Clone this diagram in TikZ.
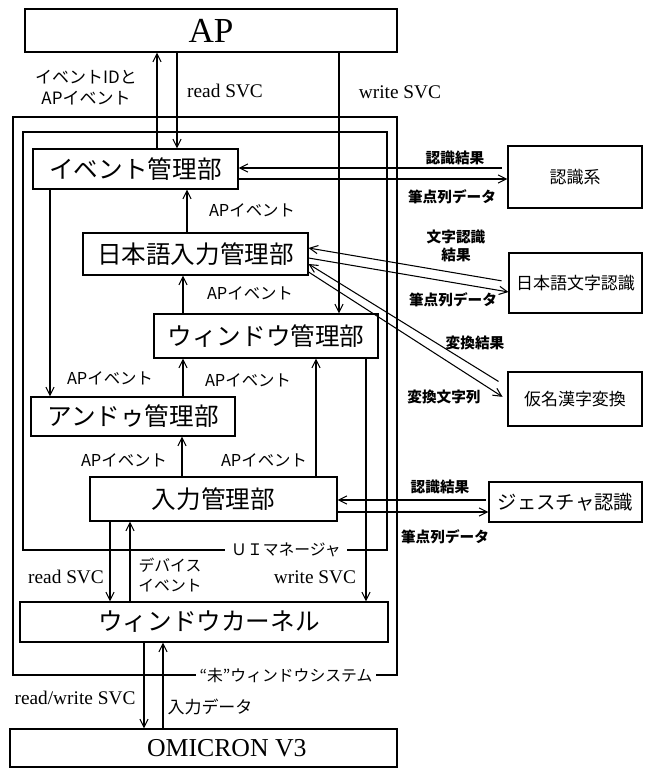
\documentclass[tikz,border=0pt]{standalone}
\usepackage{fontspec}
\setmainfont{Liberation Serif}
\newfontfamily\jp{Noto Sans CJK JP}
\usetikzlibrary{arrows.meta,calc}
\begin{document}
\begin{tikzpicture}[x=0.03cm,y=-0.03cm,
  line width=0.9pt,
  box/.style={draw, line width=0.9pt, inner sep=0pt, align=center},
  bigjp/.style={font=\jp\fontsize{21}{25}\selectfont},
  smjp/.style={font=\jp\fontsize{14.5}{17}\selectfont},
  lbl/.style={font=\jp\fontsize{14}{17}\selectfont, inner sep=1pt, align=center},
  blbl/.style={font=\jp\bfseries\fontsize{12.5}{16}\selectfont, inner sep=1pt, align=center},
  svc/.style={font=\fontsize{16.5}{19}\selectfont, inner sep=1pt},
  arr/.style={-{Straight Barb[length=7pt,width=7pt]}, line width=0.9pt},
]
\useasboundingbox (0,0) rectangle (644,769);

% boxes
\node[box, minimum width=11.16cm, minimum height=1.29cm, font=\fontsize{30}{34}\selectfont] (ap) at (211,30.5) {AP};
\node[box, bigjp, minimum width=6.15cm, minimum height=1.2cm] (ev) at (135.5,169) {イベント管理部};
\node[box, bigjp, minimum width=6.75cm, minimum height=1.26cm] (jin) at (195.5,254) {日本語入力管理部};
\node[box, bigjp, minimum width=6.72cm, minimum height=1.32cm] (win) at (266,336) {ウィンドウ管理部};
\node[box, bigjp, minimum width=6.12cm, minimum height=1.17cm] (und) at (133,416.5) {アンドゥ管理部};
\node[box, bigjp, minimum width=7.41cm, minimum height=1.32cm] (inp) at (213.5,499) {入力管理部};
\node[box, bigjp, minimum width=11.04cm, minimum height=1.2cm] (ker) at (204,622) {\hspace*{0.3cm}ウィンドウカーネル};
\node[box, minimum width=11.61cm, minimum height=1.14cm, font=\fontsize{22}{26}\selectfont] (om) at (203.5,748) {\hspace*{1.4cm}OMICRON V3};

\node[box, smjp, minimum width=4.02cm, minimum height=1.86cm] (rec) at (575,177) {認識系};
\node[box, smjp, minimum width=3.99cm, minimum height=1.8cm] (jcr) at (575.5,283) {日本語文字認識};
\node[box, smjp, minimum width=4.02cm, minimum height=1.62cm] (kkc) at (575,399) {仮名漢字変換};
\node[box, font=\jp\fontsize{16.5}{19}\selectfont, minimum width=4.59cm, minimum height=1.2cm] (ges) at (565.5,502) {ジェスチャ認識};

% UI manager box (inner) and window system box (outer)
\node[font=\jp\fontsize{13.5}{16}\selectfont, inner sep=5pt] (uim) at (286,550) {ＵＩマネージャ};
\draw[line width=0.9pt] (uim.west) -- (23,550) |- (387,132) |- (uim.east);
\node[font=\jp\fontsize{13.5}{16}\selectfont, inner sep=3pt] (osys) at (286,675) {“未”ウィンドウシステム};
\draw[line width=2pt] (osys.west) -- (13,675) |- (397,117) |- (osys.east);

% lanes
\coordinate (xA) at (157,0);
\coordinate (xB) at (177,0);
\coordinate (xC) at (339,0);
\coordinate (xD) at (50,0);
\coordinate (xE) at (187,0);
\coordinate (xF) at (183,0);
\coordinate (xG) at (182,0);
\coordinate (xH) at (316,0);
\coordinate (xI) at (110,0);
\coordinate (xJ) at (130,0);
\coordinate (xK) at (366,0);
\coordinate (xL) at (144,0);
\coordinate (xM) at (163,0);
\coordinate (y168) at (0,168);
\coordinate (y179) at (0,179);
\coordinate (y282) at (0,282);
\coordinate (y248) at (0,248);
\coordinate (y258) at (0,258);
\coordinate (y292) at (0,292);
\coordinate (y387) at (0,387);
\coordinate (y264) at (0,264);
\coordinate (y272) at (0,272);
\coordinate (y400) at (0,400);
\coordinate (y500) at (0,500);
\coordinate (y512) at (0,512);

% vertical connectors
\draw[arr] (ev.north -| xA) -- (ap.south -| xA);
\draw[arr] (ap.south -| xB) -- (ev.north -| xB);
\draw[arr] (ap.south -| xC) -- (win.north -| xC);
\draw[arr] (ev.south -| xD) -- (und.north -| xD);
\draw[arr] (jin.north -| xE) -- (ev.south -| xE);
\draw[arr] (win.north -| xF) -- (jin.south -| xF);
\draw[arr] (und.north -| xF) -- (win.south -| xF);
\draw[arr] (inp.north -| xG) -- (und.south -| xG);
\draw[arr] (inp.north -| xH) -- (win.south -| xH);
\draw[arr] (inp.south -| xI) -- (ker.north -| xI);
\draw[arr] (ker.north -| xJ) -- (inp.south -| xJ);
\draw[arr] (win.south -| xK) -- (ker.north -| xK);
\draw[arr] (ker.south -| xL) -- (om.north -| xL);
\draw[arr] (om.north -| xM) -- (ker.south -| xM);

% right-side connectors
\draw[arr, shorten <=5pt] (rec.west |- y168) -- (ev.east |- y168);
\draw[arr] (ev.east |- y179) -- (rec.west |- y179);
\draw[arr, shorten <=6pt] (jcr.west |- y282) -- (jin.east |- y248);
\draw[arr] (jin.east |- y258) -- (jcr.west |- y292);
\draw[arr, shorten <=9pt] (kkc.west |- y387) -- (jin.east |- y264);
\draw[arr, shorten >=5pt] (jin.east |- y272) -- (kkc.west |- y400);
\draw[arr, shorten <=2pt] (ges.west |- y500) -- (inp.east |- y500);
\draw[arr] (inp.east |- y512) -- (ges.west |- y512);

% labels
\node[lbl, font=\jp\fontsize{14.5}{18}\selectfont] (l0) at (86,88) {イベントIDと\\APイベント};
\node[svc] (l1) at (225,91) {read SVC};
\node[svc] (l2) at (400,92) {write SVC};
\node[lbl] (l3) at (252,210) {APイベント};
\node[lbl] (l4) at (250,293) {APイベント};
\node[lbl] (l5) at (110,378) {APイベント};
\node[lbl] (l6) at (248,380) {APイベント};
\node[lbl] (l7) at (124,460) {APイベント};
\node[lbl] (l8) at (264,460) {APイベント};
\node[blbl] (r1) at (455,158) {認識結果};
\node[blbl] (r2) at (452,197) {筆点列データ};
\node[blbl] (r3) at (456,246) {文字認識\\結果};
\node[blbl] (r4) at (453,300) {筆点列データ};
\node[blbl] (r5) at (475,343) {変換結果};
\node[blbl] (r6) at (444,397) {変換文字列};
\node[blbl] (r7) at (440,487) {認識結果};
\node[blbl] (r8) at (445,537) {筆点列データ};
\node[svc] (b1) at (66,577) {read SVC};
\node[lbl, font=\jp\fontsize{13.5}{17}\selectfont] (b2) at (170,575) {デバイス\\イベント};
\node[svc] (b3) at (315,577) {write SVC};
\node[svc] (b4) at (75,698) {read/write SVC};
\node[lbl, font=\jp\fontsize{14.5}{17}\selectfont] (b5) at (210,707) {入力データ};
\end{tikzpicture}
\end{document}
